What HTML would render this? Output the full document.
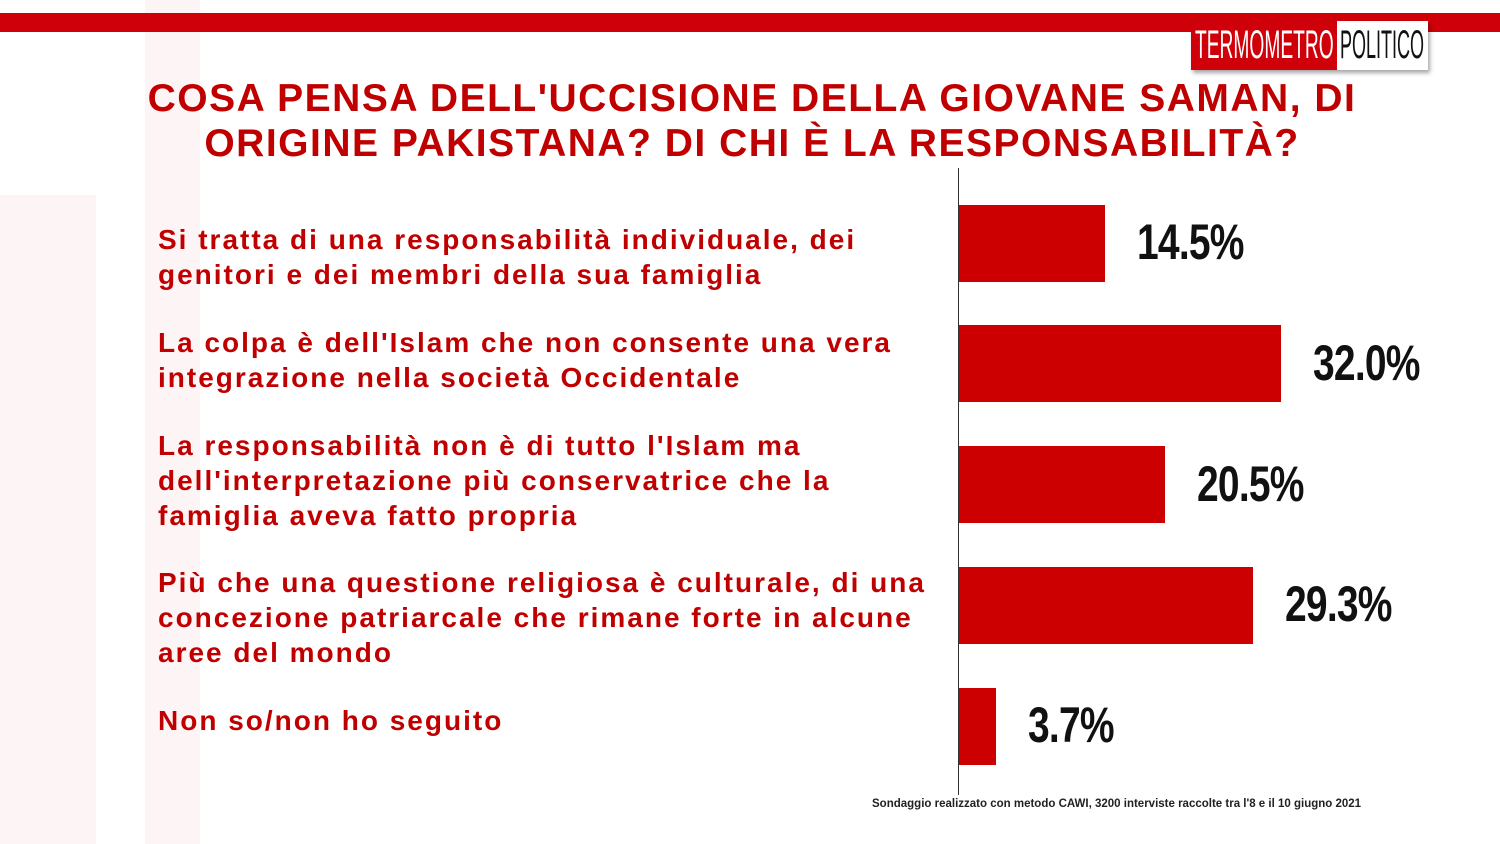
<!DOCTYPE html>
<html><head><meta charset="utf-8"><style>
body{margin:0;width:1500px;height:844px;background:#fff;position:relative;overflow:hidden;font-family:"Liberation Sans",sans-serif}
.abs{position:absolute}
.title{left:0;width:1504px;top:76px;text-align:center;color:#c00000;font-weight:bold;font-size:39px;letter-spacing:1.5px;line-height:45px}
.lab{left:158px;color:#c00000;font-weight:bold;font-size:28px;letter-spacing:2px;line-height:35px;white-space:nowrap}
.val{font-weight:bold;font-size:50px;color:#111;transform:scaleX(0.78);transform-origin:left center;white-space:nowrap;letter-spacing:-1px}
.lg{display:inline-block;transform-origin:left;white-space:nowrap}
</style></head><body>
<div class="abs" style="left:0;top:195px;width:96px;height:649px;background:#fdf5f5"></div>
<div class="abs" style="left:145px;top:0;width:55px;height:844px;background:#fdf5f5"></div>
<div class="abs" style="left:0;top:13px;width:1500px;height:19px;background:#d0000a"></div>
<div class="abs" style="left:1191px;top:21px;height:49px;width:237px;box-shadow:2px 3px 4px rgba(0,0,0,.35);font-size:40px;line-height:49px;overflow:hidden">
 <div class="abs" style="left:0;top:0;width:146px;height:49px;background:#d0000a;color:#fff;overflow:hidden"><span class="lg" style="margin-left:4px;transform:scaleX(.48)">TERMOMETRO</span></div>
 <div class="abs" style="left:146px;top:0;width:91px;height:49px;background:#fff;color:#111;overflow:hidden"><span class="lg" style="margin-left:3px;transform:scaleX(.45)">POLITICO</span></div>
</div>
<div class="abs title">COSA PENSA DELL'UCCISIONE DELLA GIOVANE SAMAN, DI<br>ORIGINE PAKISTANA? DI CHI È LA RESPONSABILITÀ?</div>
<div class="abs" style="left:958px;top:168px;width:1px;height:627px;background:#333"></div>
<div id="chart"></div>
<div class="abs" style="left:872px;top:798px;font-size:11.5px;font-weight:bold;color:#222">Sondaggio realizzato con metodo CAWI, 3200 interviste raccolte tra l'8  e il 10 giugno 2021</div>
<script>
const categories=["Si tratta di una responsabilità  individuale, dei|genitori e dei membri della sua famiglia","La colpa è dell'Islam che non consente una vera|integrazione nella società  Occidentale","La responsabilità  non è di tutto l'Islam ma|dell'interpretazione più conservatrice che la|famiglia aveva fatto propria","Più che una questione religiosa è culturale, di una|concezione patriarcale che rimane forte in alcune|aree del mondo","Non so/non ho seguito"];
const values=[14.5,32.0,20.5,29.3,3.7];
const valueLabels=["14.5%","32.0%","20.5%","29.3%","3.7%"];
const labelTops=[222,325,428,565,703];
const x0=959,pxPer=10.05,y0=243,step=120.8,bh=77;
const xs=v=>x0+v*pxPer, ys=i=>y0+i*step;
const c=document.getElementById('chart');
values.forEach((v,i)=>{
 const b=document.createElement('div');b.className='abs';
 
 
 b.style.cssText=`left:${x0}px;top:${ys(i)-bh/2}px;width:${xs(v)-x0}px;height:${bh}px;background:#cc0000`;
 c.appendChild(b);
 const t=document.createElement('div');t.className='abs val';
 
 
 t.style.left=(xs(v)+32)+'px';t.style.top=(ys(i)-30)+'px';t.textContent=valueLabels[i];
 c.appendChild(t);
 const l=document.createElement('div');l.className='abs lab';
 
 
 l.style.top=labelTops[i]+'px';
 l.innerHTML=categories[i].split('|').join('<br>');
 c.appendChild(l);
});
</script>
</body></html>
